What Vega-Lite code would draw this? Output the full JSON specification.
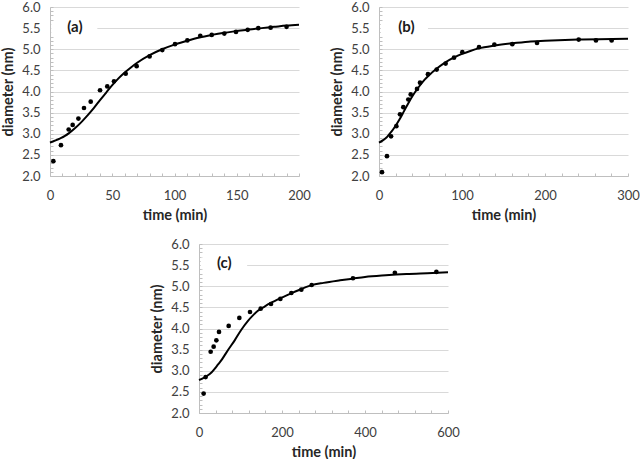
{
  "$schema": "https://vega.github.io/schema/vega-lite/v6.json",
  "padding": {"left": 0, "top": 1, "right": 0, "bottom": 0},
  "background": "white",
  "config": {
    "font": "Lato",
    "view": {"stroke": null},
    "axis": {
      "labelFont": "Lato", "labelFontSize": 13, "labelColor": "#404040",
      "titleFont": "Lato", "titleFontSize": 14.5, "titleFontWeight": "bold", "titleColor": "#262626",
      "domainColor": "#bfbfbf", "tickColor": "#bfbfbf", "gridColor": "#d9d9d9"
    }
  },
  "vconcat": [
    {
      "hconcat": [
        {
          "width": 249, "height": 169,
          "layer": [
            {
              "data": {"values": [
                {"t": 2.7, "d": 2.35}, {"t": 8.8, "d": 2.73}, {"t": 15, "d": 3.10}, {"t": 18.2, "d": 3.21}, {"t": 22.8, "d": 3.36},
                {"t": 27.3, "d": 3.61}, {"t": 32.7, "d": 3.76}, {"t": 40.2, "d": 4.03}, {"t": 46, "d": 4.12}, {"t": 51.4, "d": 4.24},
                {"t": 60.8, "d": 4.42}, {"t": 69.6, "d": 4.60}, {"t": 80, "d": 4.83}, {"t": 90.2, "d": 4.98}, {"t": 100.4, "d": 5.12},
                {"t": 110.3, "d": 5.21}, {"t": 120.7, "d": 5.32}, {"t": 129.9, "d": 5.34}, {"t": 140, "d": 5.37}, {"t": 149.4, "d": 5.41},
                {"t": 158.8, "d": 5.46}, {"t": 167.3, "d": 5.50}, {"t": 177.2, "d": 5.51}, {"t": 190, "d": 5.53}
              ]},
              "mark": {"type": "point", "filled": true, "color": "black", "size": 22, "opacity": 1},
              "encoding": {
                "x": {"field": "t", "type": "quantitative", "title": "time (min)",
                  "scale": {"domain": [0, 200], "nice": false},
                  "axis": {"values": [0,10,20,30,40,50,60,70,80,90,100,110,120,130,140,150,160,170,180,190,200], "tickCount": 100,
                    "labelExpr": "datum.value % 50 == 0 ? datum.label : ''", "labelOverlap": false, "labelFlush": false,
                    "grid": false, "tickSize": -3, "labelPadding": 16, "titlePadding": 6}},
                "y": {"field": "d", "type": "quantitative", "title": "diameter (nm)",
                  "scale": {"domain": [2, 6], "nice": false, "zero": false},
                  "axis": {"values": [2,2.1,2.2,2.3,2.4,2.5,2.6,2.7,2.8,2.9,3,3.1,3.2,3.3,3.4,3.5,3.6,3.7,3.8,3.9,4,4.1,4.2,4.3,4.4,4.5,4.6,4.7,4.8,4.9,5,5.1,5.2,5.3,5.4,5.5,5.6,5.7,5.8,5.9,6], "tickCount": 100,
                    "labelExpr": "round(datum.value*10) % 5 == 0 ? format(datum.value, '.1f') : ''", "labelOverlap": false, "labelFlush": false,
                    "gridOpacity": {"condition": {"test": "round(datum.value*10) % 5 == 0", "value": 1}, "value": 0},
                    "tickSize": -3, "labelPadding": 13, "titlePadding": 6}}
              }
            },
            {
              "data": {"values": [
                {"t": 0, "d": 2.79}, {"t": 5, "d": 2.85}, {"t": 9, "d": 2.90}, {"t": 12, "d": 2.95}, {"t": 15, "d": 3.01},
                {"t": 20, "d": 3.13}, {"t": 25, "d": 3.27}, {"t": 30, "d": 3.43}, {"t": 35, "d": 3.60}, {"t": 40, "d": 3.79},
                {"t": 45, "d": 3.97}, {"t": 50, "d": 4.15}, {"t": 55, "d": 4.31}, {"t": 60, "d": 4.45}, {"t": 65, "d": 4.57},
                {"t": 70, "d": 4.68}, {"t": 80, "d": 4.86}, {"t": 90, "d": 5.00}, {"t": 100, "d": 5.11}, {"t": 110, "d": 5.20},
                {"t": 120, "d": 5.28}, {"t": 130, "d": 5.34}, {"t": 140, "d": 5.39}, {"t": 150, "d": 5.43}, {"t": 160, "d": 5.47},
                {"t": 170, "d": 5.50}, {"t": 180, "d": 5.53}, {"t": 190, "d": 5.56}, {"t": 200, "d": 5.58}
              ]},
              "mark": {"type": "line", "color": "black", "strokeWidth": 2, "interpolate": "monotone"},
              "encoding": {
                "x": {"field": "t", "type": "quantitative"},
                "y": {"field": "d", "type": "quantitative"}
              }
            },
            {
              "data": {"values": [{"label": "(a)"}]},
              "mark": {"type": "rect", "color": "white"},
              "encoding": {"x": {"datum": 1}, "x2": {"datum": 38}, "y": {"datum": 5.38}, "y2": {"datum": 5.66}}
            },
            {
              "data": {"values": [{"label": "(a)"}]},
              "mark": {"type": "text", "fontSize": 15, "fontWeight": "bold", "color": "#1a1a1a"},
              "encoding": {"x": {"datum": 20}, "y": {"datum": 5.52}, "text": {"field": "label"}}
            }
          ]
        },
        {
          "width": 249, "height": 169,
          "layer": [
            {
              "data": {"values": [
                {"t": 3.6, "d": 2.09}, {"t": 9.6, "d": 2.47}, {"t": 14.5, "d": 2.94}, {"t": 20.9, "d": 3.18}, {"t": 25.3, "d": 3.46},
                {"t": 29.3, "d": 3.63}, {"t": 35.3, "d": 3.81}, {"t": 38.2, "d": 3.93}, {"t": 45.8, "d": 4.06}, {"t": 49.4, "d": 4.21},
                {"t": 59, "d": 4.41}, {"t": 69.5, "d": 4.52}, {"t": 80.3, "d": 4.66}, {"t": 90.4, "d": 4.80}, {"t": 100.4, "d": 4.93},
                {"t": 120.5, "d": 5.05}, {"t": 139, "d": 5.11}, {"t": 160.6, "d": 5.12}, {"t": 190.4, "d": 5.15}, {"t": 240.6, "d": 5.23},
                {"t": 261.4, "d": 5.21}, {"t": 280.3, "d": 5.21}
              ]},
              "mark": {"type": "point", "filled": true, "color": "black", "size": 22, "opacity": 1},
              "encoding": {
                "x": {"field": "t", "type": "quantitative", "title": "time (min)",
                  "scale": {"domain": [0, 300], "nice": false},
                  "axis": {"values": [0,20,40,60,80,100,120,140,160,180,200,220,240,260,280,300], "tickCount": 100,
                    "labelExpr": "datum.value % 100 == 0 ? datum.label : ''", "labelOverlap": false, "labelFlush": false,
                    "grid": false, "tickSize": -3, "labelPadding": 16, "titlePadding": 6}},
                "y": {"field": "d", "type": "quantitative", "title": "diameter (nm)",
                  "scale": {"domain": [2, 6], "nice": false, "zero": false},
                  "axis": {"values": [2,2.1,2.2,2.3,2.4,2.5,2.6,2.7,2.8,2.9,3,3.1,3.2,3.3,3.4,3.5,3.6,3.7,3.8,3.9,4,4.1,4.2,4.3,4.4,4.5,4.6,4.7,4.8,4.9,5,5.1,5.2,5.3,5.4,5.5,5.6,5.7,5.8,5.9,6], "tickCount": 100,
                    "labelExpr": "round(datum.value*10) % 5 == 0 ? format(datum.value, '.1f') : ''", "labelOverlap": false, "labelFlush": false,
                    "gridOpacity": {"condition": {"test": "round(datum.value*10) % 5 == 0", "value": 1}, "value": 0},
                    "tickSize": -3, "labelPadding": 13, "titlePadding": 6}}
              }
            },
            {
              "data": {"values": [
                {"t": 0, "d": 2.79}, {"t": 5, "d": 2.85}, {"t": 9, "d": 2.91}, {"t": 12, "d": 2.98}, {"t": 15, "d": 3.05},
                {"t": 20, "d": 3.19}, {"t": 25, "d": 3.35}, {"t": 30, "d": 3.53}, {"t": 35, "d": 3.71}, {"t": 40, "d": 3.88},
                {"t": 45, "d": 4.03}, {"t": 50, "d": 4.16}, {"t": 55, "d": 4.28}, {"t": 60, "d": 4.38}, {"t": 70, "d": 4.55},
                {"t": 80, "d": 4.69}, {"t": 90, "d": 4.80}, {"t": 100, "d": 4.89}, {"t": 110, "d": 4.96}, {"t": 120, "d": 5.02},
                {"t": 140, "d": 5.09}, {"t": 160, "d": 5.14}, {"t": 180, "d": 5.18}, {"t": 200, "d": 5.20}, {"t": 240, "d": 5.23},
                {"t": 300, "d": 5.25}
              ]},
              "mark": {"type": "line", "color": "black", "strokeWidth": 2, "interpolate": "monotone"},
              "encoding": {
                "x": {"field": "t", "type": "quantitative"},
                "y": {"field": "d", "type": "quantitative"}
              }
            },
            {
              "data": {"values": [{"label": "(b)"}]},
              "mark": {"type": "rect", "color": "white"},
              "encoding": {"x": {"datum": 2}, "x2": {"datum": 59}, "y": {"datum": 5.38}, "y2": {"datum": 5.66}}
            },
            {
              "data": {"values": [{"label": "(b)"}]},
              "mark": {"type": "text", "fontSize": 15, "fontWeight": "bold", "color": "#1a1a1a"},
              "encoding": {"x": {"datum": 33}, "y": {"datum": 5.52}, "text": {"field": "label"}}
            }
          ]
        }
      ],
      "spacing": 18
    },
    {
      "hconcat": [
        {
          "width": 99, "height": 1,
          "data": {"values": []},
          "mark": "point"
        },
        {
          "width": 249, "height": 169,
          "layer": [
            {
              "data": {"values": [
                {"t": 11.2, "d": 2.46}, {"t": 16, "d": 2.85}, {"t": 28.1, "d": 3.45}, {"t": 35.3, "d": 3.57}, {"t": 41.8, "d": 3.72},
                {"t": 48.2, "d": 3.92}, {"t": 71.5, "d": 4.06}, {"t": 97.2, "d": 4.25}, {"t": 122.9, "d": 4.39}, {"t": 148.6, "d": 4.47},
                {"t": 173.5, "d": 4.58}, {"t": 196, "d": 4.70}, {"t": 222.5, "d": 4.84}, {"t": 246.6, "d": 4.92}, {"t": 271.5, "d": 5.03},
                {"t": 371, "d": 5.19}, {"t": 472, "d": 5.32}, {"t": 572, "d": 5.34}
              ]},
              "mark": {"type": "point", "filled": true, "color": "black", "size": 22, "opacity": 1},
              "encoding": {
                "x": {"field": "t", "type": "quantitative", "title": "time (min)",
                  "scale": {"domain": [0, 600], "nice": false},
                  "axis": {"values": [0,40,80,120,160,200,240,280,320,360,400,440,480,520,560,600], "tickCount": 100,
                    "labelExpr": "datum.value % 200 == 0 ? datum.label : ''", "labelOverlap": false, "labelFlush": false,
                    "grid": false, "tickSize": -3, "labelPadding": 16, "titlePadding": 6}},
                "y": {"field": "d", "type": "quantitative", "title": "diameter (nm)",
                  "scale": {"domain": [2, 6], "nice": false, "zero": false},
                  "axis": {"values": [2,2.1,2.2,2.3,2.4,2.5,2.6,2.7,2.8,2.9,3,3.1,3.2,3.3,3.4,3.5,3.6,3.7,3.8,3.9,4,4.1,4.2,4.3,4.4,4.5,4.6,4.7,4.8,4.9,5,5.1,5.2,5.3,5.4,5.5,5.6,5.7,5.8,5.9,6], "tickCount": 100,
                    "labelExpr": "round(datum.value*10) % 5 == 0 ? format(datum.value, '.1f') : ''", "labelOverlap": false, "labelFlush": false,
                    "gridOpacity": {"condition": {"test": "round(datum.value*10) % 5 == 0", "value": 1}, "value": 0},
                    "tickSize": -3, "labelPadding": 13, "titlePadding": 6}}
              }
            },
            {
              "data": {"values": [
                {"t": 0, "d": 2.78}, {"t": 9, "d": 2.82}, {"t": 18, "d": 2.87}, {"t": 30, "d": 2.96}, {"t": 38, "d": 3.05},
                {"t": 46, "d": 3.15}, {"t": 54, "d": 3.25}, {"t": 62, "d": 3.37}, {"t": 70, "d": 3.49}, {"t": 86, "d": 3.72},
                {"t": 102, "d": 3.97}, {"t": 118, "d": 4.18}, {"t": 130, "d": 4.31}, {"t": 142, "d": 4.42}, {"t": 158, "d": 4.52},
                {"t": 174, "d": 4.61}, {"t": 190, "d": 4.69}, {"t": 206, "d": 4.76}, {"t": 222, "d": 4.83}, {"t": 238, "d": 4.90},
                {"t": 270, "d": 5.02}, {"t": 300, "d": 5.08}, {"t": 340, "d": 5.14}, {"t": 370, "d": 5.18}, {"t": 400, "d": 5.22},
                {"t": 450, "d": 5.26}, {"t": 500, "d": 5.29}, {"t": 550, "d": 5.31}, {"t": 600, "d": 5.33}
              ]},
              "mark": {"type": "line", "color": "black", "strokeWidth": 2, "interpolate": "monotone"},
              "encoding": {
                "x": {"field": "t", "type": "quantitative"},
                "y": {"field": "d", "type": "quantitative"}
              }
            },
            {
              "data": {"values": [{"label": "(c)"}]},
              "mark": {"type": "rect", "color": "white"},
              "encoding": {"x": {"datum": 4}, "x2": {"datum": 116}, "y": {"datum": 5.4}, "y2": {"datum": 5.68}}
            },
            {
              "data": {"values": [{"label": "(c)"}]},
              "mark": {"type": "text", "fontSize": 15, "fontWeight": "bold", "color": "#1a1a1a"},
              "encoding": {"x": {"datum": 61}, "y": {"datum": 5.54}, "text": {"field": "label"}}
            }
          ]
        }
      ],
      "spacing": 0
    }
  ],
  "spacing": 16
}
